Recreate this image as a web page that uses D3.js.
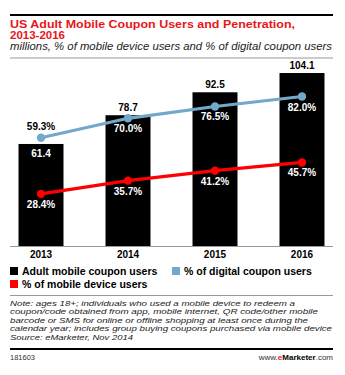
<!DOCTYPE html>
<html><head><meta charset="utf-8">
<script src="https://cdn.jsdelivr.net/npm/d3@7"></script>
<style>
html,body{margin:0;padding:0;background:#fff;}
text{font-family:"Liberation Sans",Arial,sans-serif;}
</style></head>
<body>
<svg id="c" width="345" height="375"></svg>
<script>
const years = ["2013","2014","2015","2016"];
const couponUsers = [61.4, 78.7, 92.5, 104.1];
const pctDigital = [59.3, 70.0, 76.5, 82.0];
const pctMobile = [28.4, 35.7, 41.2, 45.7];
const barLabels = ["61.4","78.7","92.5","104.1"];
const legendItems = ["Adult mobile coupon users","% of digital coupon users","% of mobile device users"];
const noteLines = [
 "Note: ages 18+; individuals who used a mobile device to redeem a",
 "coupon/code obtained from app, mobile internet, QR code/other mobile",
 "barcode or SMS for online or offline shopping at least once during the",
 "calendar year; includes group buying coupons purchased via mobile device",
 "Source: eMarketer, Nov 2014"
];

const svg = d3.select("#c");
const RED = "#e8161b", BLUE = "#72a8c9", LRED = "#ff0000";

function fit(sel, w){
  sel.each(function(){
    const L = this.getComputedTextLength();
    if (Math.abs(L - w) > 1) d3.select(this).attr("textLength", w).attr("lengthAdjust","spacingAndGlyphs");
  });
}

// header
svg.append("rect").attr("x",10).attr("y",14).attr("width",323).attr("height",2).attr("fill","#000");
fit(svg.append("text").attr("x",10).attr("y",27.5).attr("fill",RED).attr("font-weight","bold").attr("font-size",11.5)
  .text("US Adult Mobile Coupon Users and Penetration,"), 285);
svg.append("text").attr("x",10).attr("y",38.5).attr("fill",RED).attr("font-weight","bold").attr("font-size",11.5)
  .text("2013-2016");
fit(svg.append("text").attr("x",10).attr("y",50).attr("fill","#222").attr("font-style","italic").attr("font-size",10.5)
  .text("millions, % of mobile device users and % of digital coupon users"), 322);
svg.append("rect").attr("x",10).attr("y",57.5).attr("width",323).attr("height",1).attr("fill","#999");

// scales
const x = d3.scaleBand().domain(years).range([10,333]).paddingInner(0.483).paddingOuter(0.098);
const yBar = d3.scaleLinear().domain([0,120]).range([246, 46.6]);
const yPct = d3.scaleLinear().domain([0,100]).range([245.5, 63.8]);

// bars
svg.selectAll("rect.bar").data(couponUsers).enter().append("rect").attr("class","bar")
  .attr("x",(d,i)=>x(years[i])).attr("width",x.bandwidth())
  .attr("y",d=>yBar(d)).attr("height",d=>yBar(0)-yBar(d)).attr("fill","#000");

// x axis
const ax = svg.append("g").attr("transform","translate(0,246)")
  .call(d3.axisBottom(x).tickSize(0).tickPadding(5));
ax.select(".domain").attr("stroke","#999").attr("d","M10,0.5H333");
ax.selectAll("text").attr("font-size",10).attr("font-weight","bold").attr("fill","#000")
  .style("font-family","'Liberation Sans',Arial,sans-serif");

// bar labels
svg.selectAll("text.bl").data(couponUsers).enter().append("text").attr("class","bl")
  .attr("x",(d,i)=>x(years[i])+x.bandwidth()/2)
  .attr("y",(d,i)=> i===0 ? yBar(d)+13.5 : yBar(d)-4)
  .attr("text-anchor","middle").attr("font-size",10).attr("font-weight","bold")
  .attr("fill",(d,i)=> i===0 ? "#fff" : "#000")
  .text((d,i)=>barLabels[i]);

function series(vals, color, labelAbove){
  const cx = (d,i)=>x(years[i])+x.bandwidth()/2;
  const line = d3.line().x((d,i)=>cx(d,i)).y(d=>yPct(d));
  svg.append("path").datum(vals).attr("d",line).attr("fill","none").attr("stroke",color).attr("stroke-width",3.2);
  svg.selectAll(null).data(vals).enter().append("circle")
    .attr("cx",cx).attr("cy",d=>yPct(d)).attr("r",4.2).attr("fill",color);
  svg.selectAll(null).data(vals).enter().append("text")
    .attr("x",cx).attr("y",(d,i)=> labelAbove(i) ? yPct(d)-8 : yPct(d)+14)
    .attr("text-anchor","middle").attr("font-size",10).attr("font-weight","bold")
    .attr("fill",(d,i)=> labelAbove(i) ? "#000" : "#fff")
    .text(d=>d.toFixed(1)+"%");
}
series(pctDigital, BLUE, i=>i===0);
series(pctMobile, LRED, i=>false);

// legend
const lg = svg.append("g");
const legPos = [[10,267],[172,267],[10,280]];
const legCol = ["#000", BLUE, LRED];
legendItems.forEach((t,i)=>{
  lg.append("rect").attr("x",legPos[i][0]).attr("y",legPos[i][1]).attr("width",8).attr("height",8).attr("fill",legCol[i]);
  lg.append("text").attr("x",legPos[i][0]+12).attr("y",legPos[i][1]+7.5).attr("font-size",10.5).attr("font-weight","bold").attr("fill","#000").text(t);
});

svg.append("rect").attr("x",10).attr("y",295).attr("width",323).attr("height",1).attr("fill","#999");

// notes
const noteWidths = [285, 308, 298, 322, 123];
noteLines.forEach((t,i)=>{
  const tx = svg.append("text").attr("x",10).attr("y",306+i*8.4).attr("font-size",8).attr("font-style","italic").attr("fill","#222").text(t);
  fit(tx, noteWidths[i]);
});

svg.append("rect").attr("x",10).attr("y",348).attr("width",323).attr("height",2).attr("fill","#000");
svg.append("text").attr("x",10).attr("y",360).attr("font-size",7.5).attr("fill","#333").text("181603");
const wt = svg.append("text").attr("x",333).attr("y",360).attr("font-size",8).attr("fill","#333").attr("text-anchor","end");
wt.append("tspan").text("www.");
wt.append("tspan").attr("fill",RED).attr("font-weight","bold").text("e");
wt.append("tspan").attr("fill","#000").attr("font-weight","bold").text("Marketer");
wt.append("tspan").text(".com");
</script>
</body></html>
